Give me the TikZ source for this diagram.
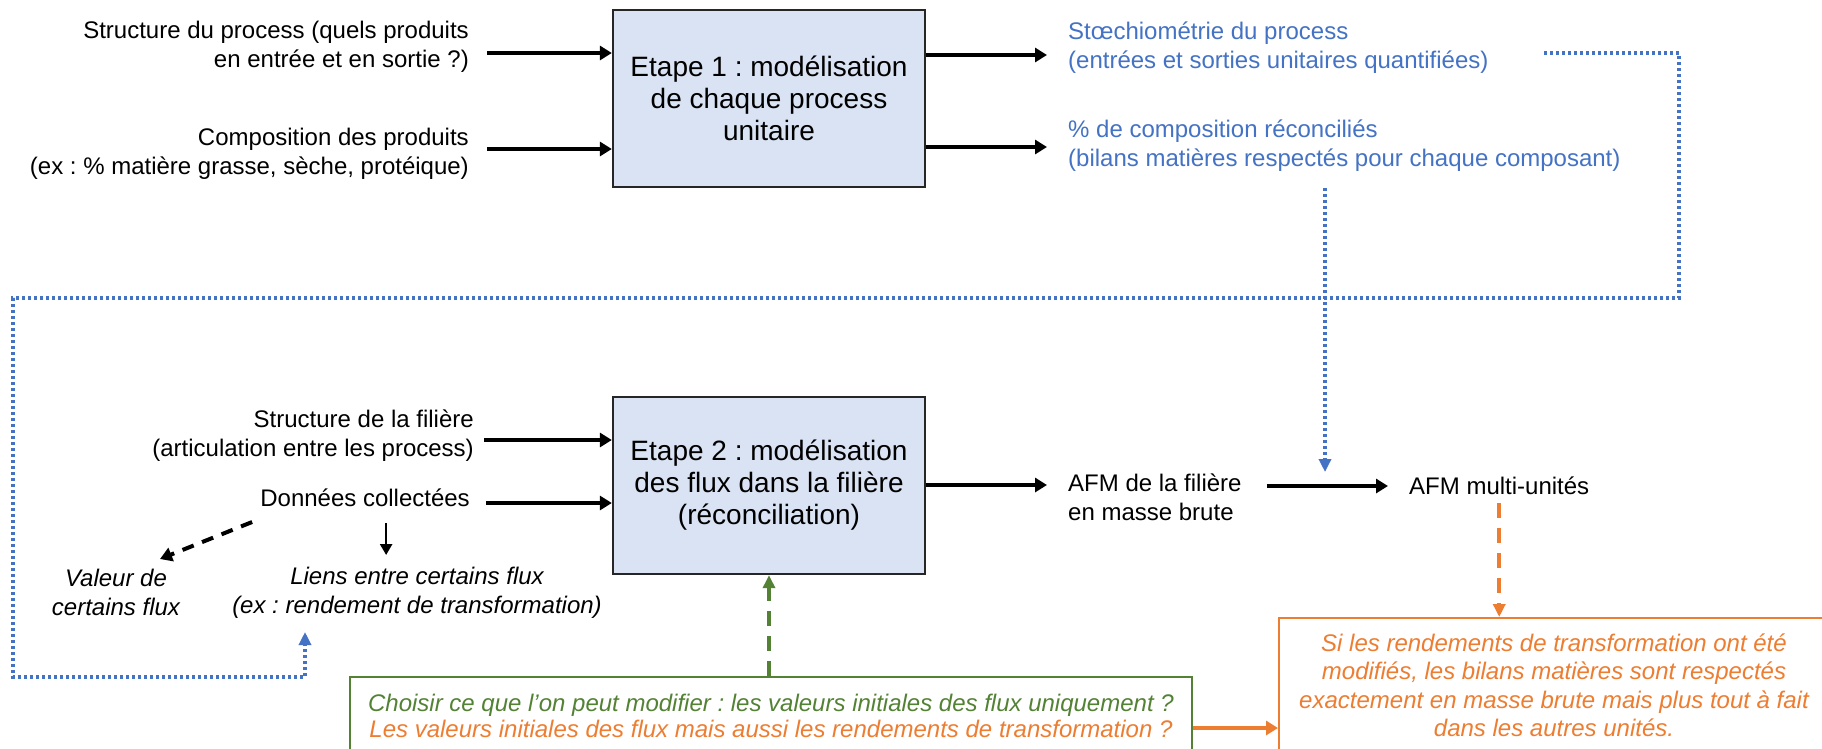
\documentclass[tikz,border=0pt]{standalone}
\usepackage{fontspec}
\setmainfont{Liberation Sans}
\usetikzlibrary{arrows.meta,calc}
\definecolor{boxfill}{HTML}{DAE3F3}
\definecolor{bl}{HTML}{4472C4}
\definecolor{gr}{HTML}{548235}
\definecolor{orng}{HTML}{ED7D31}
\frenchspacing
\begin{document}
\begin{tikzpicture}[x=1pt,y=-1pt,
  txt/.style={inner sep=0pt, font=\fontsize{24}{29}\selectfont},
  itxt/.style={inner sep=0pt, font=\fontsize{24}{29}\selectfont\itshape},
  stage/.style={draw=black!85, line width=2.3pt, fill=boxfill, minimum width=312pt,
    minimum height=177pt, align=center, inner sep=0pt, font=\fontsize{28}{32}\selectfont},
  arr/.style={line width=4pt, -{Triangle[length=12pt,width=14pt]}},
  thinarr/.style={line width=2.5pt, -{Triangle[length=11pt,width=12pt]}},
  darr/.style={line width=4pt, dash pattern=on 12pt off 9pt, -{Triangle[length=12pt,width=14pt]}},
  dotarr/.style={bl, line width=3.5pt, dash pattern=on 3pt off 3pt, -{Triangle[length=13pt,width=12pt]}},
  gdash/.style={gr, line width=3.5pt, dash pattern=on 15pt off 10pt, -{Triangle[length=13pt,width=12pt]}},
  odash/.style={orng, line width=3.5pt, dash pattern=on 15pt off 10pt, -{Triangle[length=13pt,width=12pt]}},
  oarr/.style={orng, line width=4pt, -{Triangle[length=12pt,width=14pt]}},
]
\useasboundingbox[fill=white] (0,0) rectangle (1822,748);

% Stage 1
\node[stage] (box1) at (769,98.5) {Etape 1 : modélisation\\de chaque process\\unitaire};
\node[txt, align=right, anchor=east] (in1) at (469,47) {Structure du process (quels produits\\en entrée et en sortie ?)};
\node[txt, align=right, anchor=east] (in2) at (469,153.5) {Composition des produits\\(ex : \% matière grasse, sèche, protéique)};
\node[txt, align=left, anchor=west, text=bl] (out1) at (1068,47.5) {Stœchiométrie du process\\(entrées et sorties unitaires quantifiées)};
\node[txt, align=left, anchor=west, text=bl] (out2) at (1068,146) {\% de composition réconciliés\\(bilans matières respectés pour chaque composant)};

\draw[arr] ($(in1.east |- 0,53)+(18,0)$) -- (box1.west |- 0,53);
\draw[arr] ($(in2.east |- 0,149)+(18,0)$) -- (box1.west |- 0,149);
\draw[arr] (box1.east |- 0,55) -- ($(out1.west |- 0,55)+(-21,0)$);
\draw[arr] (box1.east |- 0,147) -- ($(out2.west |- 0,147)+(-21,0)$);

% Stage 2
\node[stage] (box2) at (769,485.5) {Etape 2 : modélisation\\des flux dans la filière\\(réconciliation)};
\node[txt, align=right, anchor=east] (in3) at (474,436) {Structure de la filière\\(articulation entre les process)};
\node[txt, anchor=east] (in4) at (470,498) {Données collectées};
\node[itxt, align=center] (val) at (116,592.5) {Valeur de\\certains flux};
\node[itxt, align=center] (liens) at (417,592.5) {Liens entre certains flux\\(ex : rendement de transformation)};
\node[txt, align=left, anchor=west] (afm1) at (1068,497) {AFM de la filière\\en masse brute};
\node[txt, anchor=west] (afm2) at (1409,486) {AFM multi-unités};

\draw[arr] ($(in3.east |- 0,440)+(10,0)$) -- (box2.west |- 0,440);
\draw[arr] ($(in4.east |- 0,503)+(16,0)$) -- (box2.west |- 0,503);
\draw[darr] ($(in4.west)+(-8,24)$) -- ($(val.north)+(44,-10)$);
\draw[thinarr] ($(in4.west)+(126,25)$) -- ($(in4.west)+(126,57)$);
\draw[arr] (box2.east |- 0,485) -- ($(afm1.west |- 0,485)+(-21,0)$);
\draw[arr] ($(afm1.east |- 0,486)+(25,0)$) -- ($(afm2.west)+(-21,0)$);

% bottom boxes
\node[draw=gr, line width=2pt, minimum width=842pt, minimum height=78pt, inner sep=0pt,
  align=center, font=\fontsize{24}{26}\selectfont\itshape, anchor=north] (choix) at (771,676)
  {\textcolor{gr}{Choisir ce que l’on peut modifier : les valeurs initiales des flux uniquement ?}\\
   \textcolor{orng}{Les valeurs initiales des flux mais aussi les rendements de transformation ?}};
\node[draw=orng, line width=2pt, minimum width=550pt, minimum height=135pt, inner sep=0pt,
  align=center, text=orng, font=\fontsize{24}{28.5}\selectfont\itshape] (note) at (1554,685.5)
  {Si les rendements de transformation ont été\\modifiés, les bilans matières sont respectés\\exactement en masse brute mais plus tout à fait\\dans les autres unités.};

\draw[gdash] (box2.south |- choix.north) -- (box2.south);
\draw[oarr] (choix.east |- 0,728) -- (note.west |- 0,728);
\draw[odash] ($(afm2.south)+(0,8)$) -- (afm2.south |- note.north);

% blue dotted feedback links
\coordinate (bs) at (1544,53);
\coordinate (lt) at (305,632);
\draw[dotarr] (bs) -- (1679,53) -- (1679,298) -- (13,298) -- (13,677) -| (lt);
\coordinate (vs) at (1325,188);
\coordinate (vt) at (1325,472);
\draw[dotarr] (vs) -- (vt);
\end{tikzpicture}
\end{document}
